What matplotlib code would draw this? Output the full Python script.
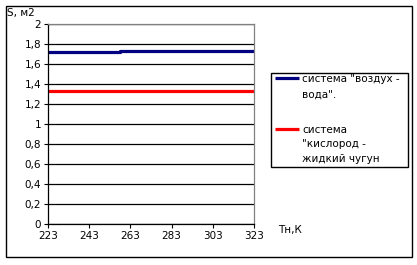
import matplotlib
matplotlib.use("Agg")
import matplotlib.pyplot as plt
from matplotlib.patches import Rectangle
from matplotlib.lines import Line2D

# Data
temps_air = [223, 258, 258, 323]
area_air = [1.72, 1.72, 1.733, 1.733]
temps_iron = [223, 323]
area_iron = [1.33, 1.33]
x_ticks = [223, 243, 263, 283, 303, 323]
y_ticks = [0, 0.2, 0.4, 0.6, 0.8, 1, 1.2, 1.4, 1.6, 1.8, 2]
y_labels = ["0", "0,2", "0,4", "0,6", "0,8", "1", "1,2", "1,4", "1,6", "1,8", "2"]
label_air = ['система "воздух -', 'вода".']
label_iron = ['система', '"кислород -', 'жидкий чугун']

W, H = 417, 265
fig = plt.figure(figsize=(W / 100, H / 100), dpi=100)
fs = 7.5

ax = fig.add_axes([48 / W, 1 - 224 / H, (254 - 48) / W, (224 - 24) / H])
ax.set_xlim(223, 323)
ax.set_ylim(0, 2)
ax.set_yticks(y_ticks)
ax.set_yticklabels(y_labels)
ax.set_xticks(x_ticks)
ax.tick_params(labelsize=fs, length=3, width=0.8, pad=2, colors="black")
ax.grid(axis="y", color="black", linewidth=0.9)
ax.set_axisbelow(True)
for s in ["left", "bottom"]:
    ax.spines[s].set_color("black")
    ax.spines[s].set_linewidth(0.9)
for s in ["top", "right"]:
    ax.spines[s].set_color("#808080")
    ax.spines[s].set_linewidth(0.9)

ax.plot(temps_air, area_air, color="#000080", linewidth=2.3, solid_capstyle="butt")
ax.plot(temps_iron, area_iron, color="#ff0000", linewidth=2.3, solid_capstyle="butt")

def fx(px):
    return px / W

def fy(py):
    return 1 - py / H

# outer border
fig.patches.append(Rectangle((fx(6), fy(257)), fx(412) - fx(6), fy(6) - fy(257),
                             transform=fig.transFigure, fill=False,
                             edgecolor="black", linewidth=1))

fig.text(fx(7), fy(13), "S, м2", fontsize=fs, ha="left", va="center")
fig.text(fx(278), fy(230), "Тн,К", fontsize=fs, ha="left", va="center")

# legend
fig.patches.append(Rectangle((fx(271), fy(167)), fx(408) - fx(271), fy(73) - fy(167),
                             transform=fig.transFigure, fill=False,
                             edgecolor="black", linewidth=1))
fig.lines.append(Line2D([fx(275), fx(299)], [fy(78), fy(78)], transform=fig.transFigure,
                        color="#000080", linewidth=2.3, solid_capstyle="butt"))
fig.lines.append(Line2D([fx(275), fx(299)], [fy(129), fy(129)], transform=fig.transFigure,
                        color="#ff0000", linewidth=2.3, solid_capstyle="butt"))
for line, py in zip(label_air, [78, 94]):
    fig.text(fx(302), fy(py), line, fontsize=fs, ha="left", va="center_baseline")
for line, py in zip(label_iron, [129, 143, 158]):
    fig.text(fx(302), fy(py), line, fontsize=fs, ha="left", va="center_baseline")

fig.savefig("out.png", dpi=100)
